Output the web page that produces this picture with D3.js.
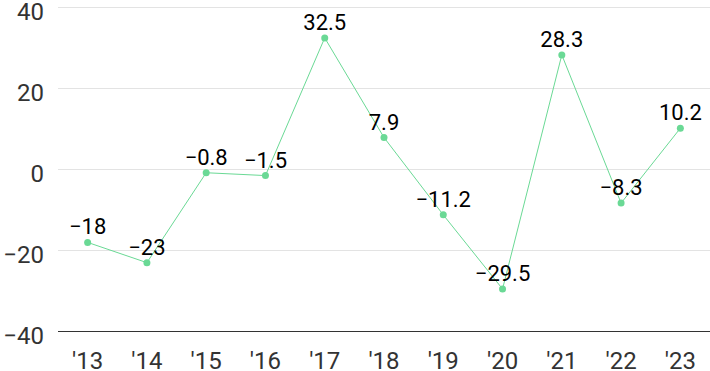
<!DOCTYPE html>
<html>
<head>
<meta charset="UTF-8">
<script src="https://d3js.org/d3.v7.min.js"></script>
<style>
  * { margin: 0; padding: 0; }
  body { background: #fff; font-family: Roboto, "Noto Sans", sans-serif; }
</style>
</head>
<body>
<div id="chart"></div>
<script>
const years = ["'13", "'14", "'15", "'16", "'17", "'18", "'19", "'20", "'21", "'22", "'23"];
const values = [-18, -23, -0.8, -1.5, 32.5, 7.9, -11.2, -29.5, 28.3, -8.3, 10.2];
const yTicks = [-40, -20, 0, 20, 40];

const W = 710, H = 371;
const margin = { top: 7.5, right: 0, bottom: 39.5, left: 58 };

const svg = d3.select("#chart").append("svg")
    .attr("width", W).attr("height", H);

const x = d3.scalePoint()
    .domain(years)
    .range([margin.left, W - margin.right])
    .padding(0.5);

const y = d3.scaleLinear()
    .domain([-40, 40])
    .range([H - margin.bottom, margin.top]);

// grid
svg.append("g")
    .selectAll("line")
    .data(yTicks)
    .join("line")
    .attr("x1", margin.left).attr("x2", W)
    .attr("y1", d => y(d)).attr("y2", d => y(d))
    .attr("stroke", d => d === -40 ? "#333" : "#e3e3e3")
    .attr("stroke-width", 1);

const fmt = d => (d < 0 ? "\u2212" + Math.abs(d) : String(d));

// y labels
svg.append("g")
    .selectAll("text")
    .data(yTicks)
    .join("text")
    .attr("x", 44)
    .attr("y", d => y(d) + 12)
    .attr("text-anchor", "end")
    .attr("fill", "#333")
    .style("font-size", "24px")
    .text(fmt);

// x labels
svg.append("g")
    .selectAll("text")
    .data(years)
    .join("text")
    .attr("x", d => x(d))
    .attr("y", 369)
    .attr("text-anchor", "middle")
    .attr("fill", "#333")
    .style("font-size", "24px")
    .text(d => d);

const data = years.map((yr, i) => ({ yr, v: values[i] }));

svg.append("path")
    .datum(data)
    .attr("fill", "none")
    .attr("stroke", "#6ad995")
    .attr("stroke-width", 1)
    .attr("d", d3.line().x(d => x(d.yr)).y(d => y(d.v)));

svg.append("g")
    .selectAll("circle")
    .data(data)
    .join("circle")
    .attr("cx", d => x(d.yr))
    .attr("cy", d => y(d.v))
    .attr("r", 3.5)
    .attr("fill", "#6ad995");

svg.append("g")
    .selectAll("text")
    .data(data)
    .join("text")
    .attr("x", d => x(d.yr))
    .attr("y", d => y(d.v) - 8)
    .attr("text-anchor", "middle")
    .attr("fill", "#000")
    .style("font-size", "22px")
    .text(d => fmt(d.v));
</script>
</body>
</html>
